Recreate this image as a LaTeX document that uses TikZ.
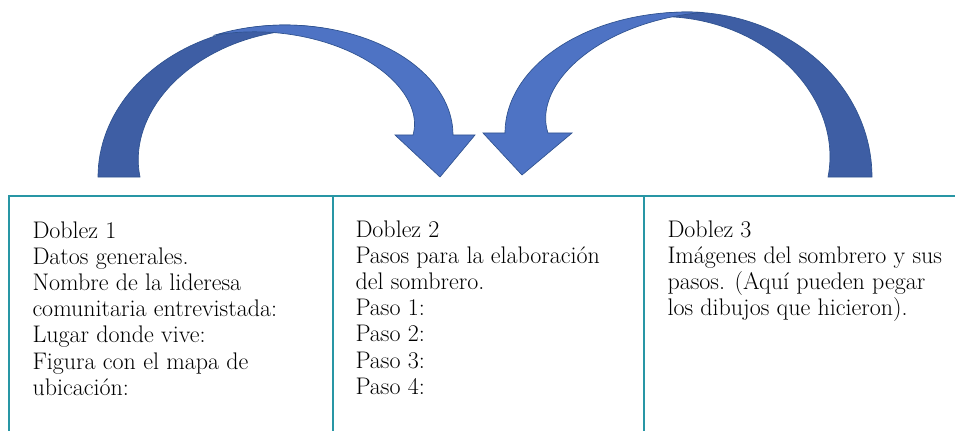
\documentclass[tikz,border=0pt]{standalone}
\usepackage{fontspec}

\definecolor{bandDark}{RGB}{62,94,164}
\definecolor{bandLight}{RGB}{78,115,196}
\definecolor{bandEdge}{RGB}{47,82,143}
\definecolor{tableRule}{RGB}{40,150,165}

\tikzset{every picture/.style={line width=0.75pt}}
\tikzset{
  tailband/.style={fill=bandDark, draw=bandEdge, line width=0.5pt},
  frontband/.style={fill=bandLight, draw=bandEdge, line width=0.5pt, line join=miter},
  rule/.style={draw=tableRule, line width=1.3pt},
  doblez/.style={anchor=base west, inner sep=0pt, align=left,
    font=\fontsize{18}{19.65}\selectfont},
}

\begin{document}
\begin{tikzpicture}[x=0.75pt,y=0.75pt,yscale=-1,xscale=1]
\useasboundingbox (0,0) rectangle (955,431);

%Shape: Curved Arrow, back side [id:left]
\draw [tailband] plot[domain=180:75, samples=50, variable=\t] ({285+187*cos(\t)},{177-152*sin(\t)})
  -- plot[domain=75:180, samples=50, variable=\t] ({285+(187-0.4*(\t-75))*cos(\t)},{177-(152-0.4*(\t-75))*sin(\t)}) -- cycle ;
%Shape: Curved Arrow, front side with head [id:left]
\draw [frontband] plot[domain=115:0, samples=50, variable=\t] ({285+168*cos(\t)},{135-110*sin(\t)})
  -- (475,135) -- (440,177) -- (395,135)
  -- plot[domain=0:115, samples=50, variable=\t] ({285+(168-0.3478*(115-\t))*cos(\t)},{135-(110-0.3478*(115-\t))*sin(\t)}) -- cycle ;

%Shape: Curved Arrow, back side [id:right]
\draw [tailband] plot[domain=0:105, samples=50, variable=\t] ({687+185*cos(\t)},{177-165*sin(\t)})
  -- plot[domain=105:0, samples=50, variable=\t] ({687+(185-0.419*(105-\t))*cos(\t)},{177-(165-0.419*(105-\t))*sin(\t)}) -- cycle ;
%Shape: Curved Arrow, front side with head [id:right]
\draw [frontband] plot[domain=85:180, samples=50, variable=\t] ({687+182*cos(\t)},{133-121*sin(\t)})
  -- (483,133) -- (522,175) -- (572,133)
  -- plot[domain=180:85, samples=50, variable=\t] ({687+(182-0.4526*(\t-85))*cos(\t)},{133-(121-0.4526*(\t-85))*sin(\t)}) -- cycle ;

%Table rules
\draw [rule] (9,431) -- (9,196) -- (955,196) ;
\draw [rule] (333,196) -- (333,431) ;
\draw [rule] (644,196) -- (644,431) ;

% Text Node (base anchor sits on the last line)
\node [doblez] (doblezuno) at (32,395.2) {Doblez 1\\Datos generales.\\Nombre de la lideresa\\comunitaria entrevistada:\\Lugar donde vive:\\Figura con el mapa de\\ubicación:};
% Text Node
\node [doblez] (doblezdos) at (355,394.2) {Doblez 2\\Pasos para la elaboración\\del sombrero.\\Paso 1:\\Paso 2:\\Paso 3:\\Paso 4:};
% Text Node
\node [doblez] (dobleztres) at (667,315.6) {Doblez 3\\Imágenes del sombrero y sus\\pasos. (Aquí pueden pegar\\los dibujos que hicieron).};

\end{tikzpicture}
\end{document}
